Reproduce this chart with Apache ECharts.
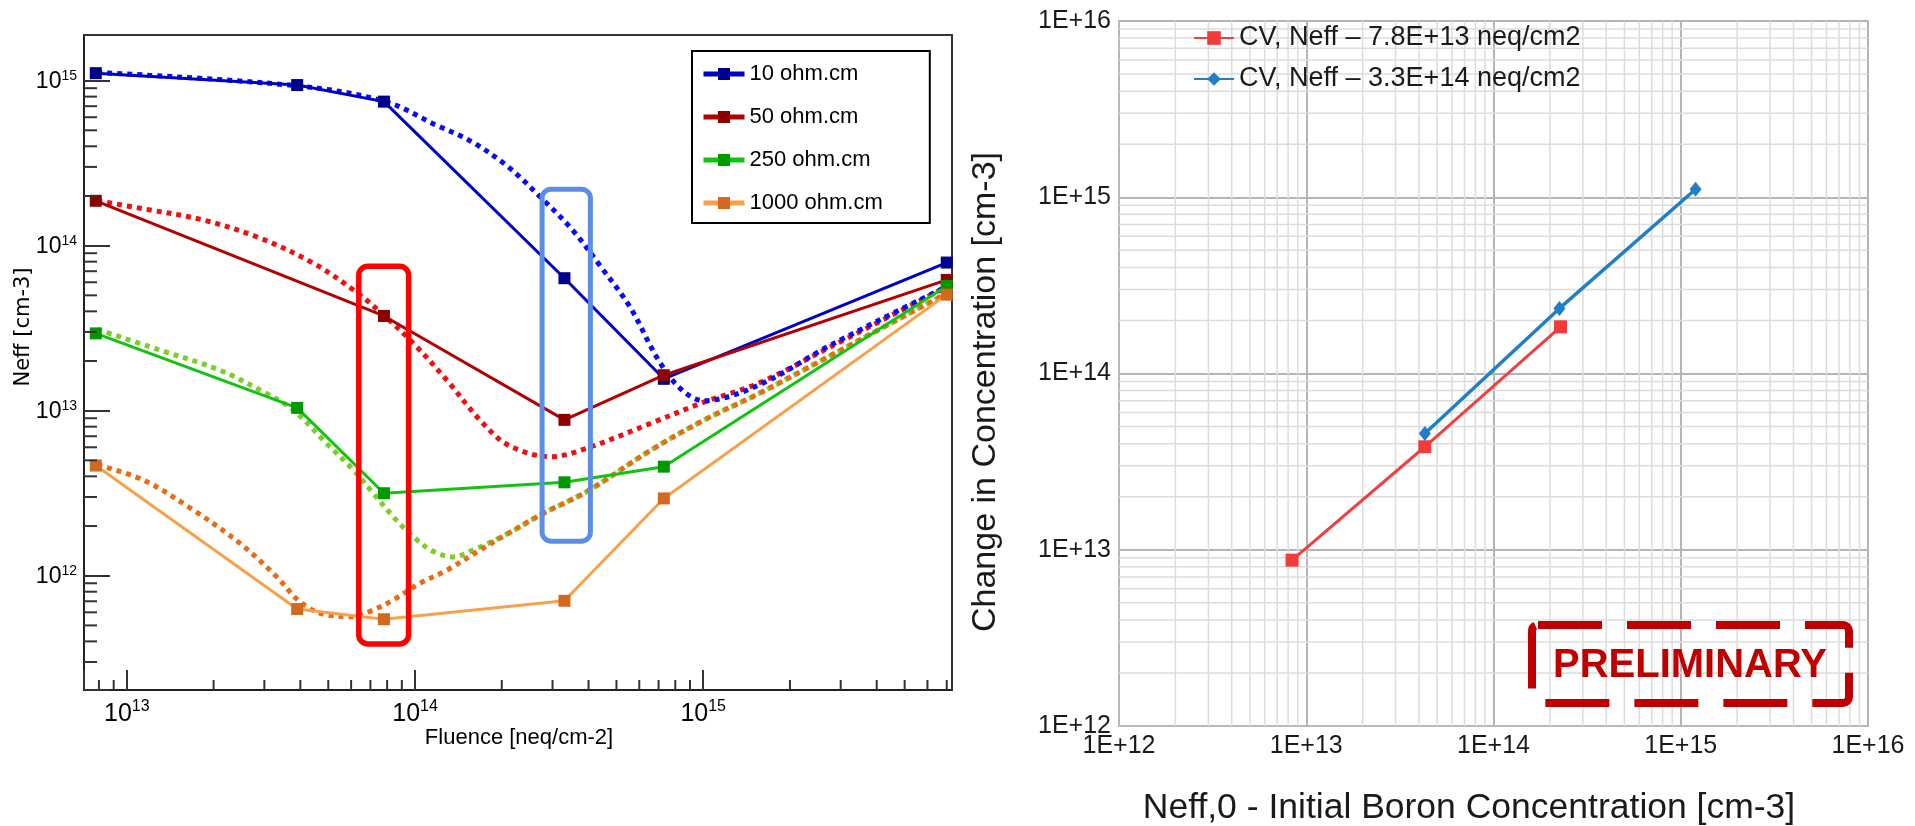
<!DOCTYPE html>
<html>
<head>
<meta charset="utf-8">
<title>Neff vs fluence / boron concentration</title>
<script src="https://cdn.jsdelivr.net/npm/echarts@6/dist/echarts.min.js"></script>
<style>
html, body { margin: 0; padding: 0; background: #fff; }
#chart { width: 1915px; height: 826px; }
</style>
</head>
<body>
<div id="chart"></div>
<script>
// ---- left panel: measured Neff vs fluence ----
const fluence = [7.8e12, 3.9e13, 7.8e13, 3.3e14, 7.3e14, 7.0e15]
const neff10 = [1.11e15, 9.4e14, 7.46e14, 6.35e13, 1.56e13, 7.9e13]
const neff50 = [1.87e14, null, 3.75e13, 8.8e12, 1.64e13, 6.2e13]
const neff250 = [2.94e13, 1.04e13, 3.16e12, 3.68e12, 4.58e12, 5.7e13]
const neff1000 = [4.65e12, 6.28e11, 5.45e11, 7.05e11, 2.94e12, 5.05e13]

// model curves (dotted), [fluence, Neff]
const model10 = [[7.9e12, 1.12e15], [3.9e13, 9.3e14], [7.9e13, 7.46e14], [1.18e14, 5.39e14],
  [1.57e14, 4.27e14], [2.1e14, 3.01e14], [2.79e14, 1.89e14], [3.51e14, 1.25e14], [4.41e14, 7.46e13],
  [5.56e14, 4.27e13], [6.99e14, 2.03e13], [8.3e14, 1.37e13], [1.0e15, 1.15e13],
  [1.56e15, 1.43e13], [2.77e15, 2.5e13], [7.0e15, 5.65e13]]
const model50 = [[7.9e12, 1.87e14], [1.17e13, 1.66e14], [1.84e13, 1.43e14], [2.9e13, 1.11e14], [4.44e13, 7.82e13],
  [6.1e13, 5.4e13], [7.55e13, 3.98e13], [9.86e13, 2.56e13], [1.29e14, 1.53e13], [1.68e14, 8.78e12],
  [2.1e14, 6.2e12], [2.96e14, 5.26e12], [3.94e14, 5.92e12], [6.6e14, 8.4e12], [1.01e15, 1.13e13],
  [1.56e15, 1.47e13], [2.77e15, 2.44e13], [7.0e15, 5.65e13]]
const model250 = [[7.9e12, 3.11e13], [1.3e13, 2.33e13], [2.1e13, 1.76e13], [3.05e13, 1.27e13], [3.78e13, 1.01e13],
  [4.93e13, 6.34e12], [6.1e13, 4.38e12], [7.16e13, 3.16e12], [8.4e13, 2.28e12], [9.86e13, 1.72e12],
  [1.16e14, 1.4e12], [1.36e14, 1.3e12], [1.59e14, 1.43e12], [2.1e14, 1.8e12], [2.79e14, 2.39e12],
  [3.94e14, 3.23e12], [6.6e14, 5.78e12], [1.01e15, 8.8e12], [1.56e15, 1.27e13], [2.4e15, 1.89e13],
  [7.0e15, 5.15e13]]
const model1000 = [[7.9e12, 4.69e12], [1.14e13, 3.8e12], [1.7e13, 2.5e12], [2.47e13, 1.57e12], [3.31e13, 9.86e11],
  [3.99e13, 6.95e11], [4.93e13, 5.78e11], [6.1e13, 5.65e11], [7.16e13, 6.2e11], [8.4e13, 7.13e11],
  [1.04e14, 9.0e11], [1.29e14, 1.08e12], [1.68e14, 1.43e12], [2.1e14, 1.8e12], [2.79e14, 2.39e12],
  [3.94e14, 3.23e12], [6.6e14, 5.78e12], [1.01e15, 8.8e12], [1.56e15, 1.27e13], [2.4e15, 1.89e13],
  [7.0e15, 5.15e13]]

// highlight boxes [x0, y0, x1, y1] in data units
const redBox = [[6.38e13, 3.86e11, 9.5e13, 7.5e13]]
const blueBox = [[2.76e14, 1.62e12, 4.06e14, 2.2e14]]

// ---- right panel: change in concentration vs initial boron ----
const boronA = [8.4e12, 4.3e13, 2.28e14]
const changeA = [8.73e12, 3.84e13, 1.84e14]
const boronB = [4.3e13, 2.25e14, 1.2e15]
const changeB = [4.57e13, 2.34e14, 1.11e15]

const X0_MIN = 7.1e12, X0_MAX = 7.3e15
const Y0_MIN = 2.03e11, Y0_MAX = 1.89e15
const R_MIN = 1e12, R_MAX = 1e16

function decadeTicks (lo, hi) {
  const out = []
  for (let e = Math.floor(Math.log10(lo)); e <= Math.ceil(Math.log10(hi)); e++) {
    for (let m = 2; m <= 9; m++) {
      const v = m * Math.pow(10, e)
      if (v > lo * 1.0001 && v < hi * 0.9999) out.push(v)
    }
  }
  return out
}
function isDecade (v) {
  const e = Math.log10(v)
  return Math.abs(e - Math.round(e)) < 1e-6
}
function pairs (xs, ys) {
  return xs.map((x, i) => [x, ys[i]]).filter(p => p[1] != null)
}

const FONT = '"Liberation Sans", Arial, sans-serif'
const NARROW = '"Liberation Sans Narrow", "Arial Narrow", "Liberation Sans", sans-serif'

function solid (name, ys, lineColor, markColor) {
  return {
    name: name,
    type: 'line',
    xAxisIndex: 0,
    yAxisIndex: 0,
    data: pairs(fluence, ys),
    symbol: 'rect',
    symbolSize: 12,
    z: 4,
    itemStyle: { color: markColor },
    lineStyle: { color: lineColor, width: 3 }
  }
}
function dotted (name, pts, color) {
  return {
    name: name,
    type: 'line',
    xAxisIndex: 0,
    yAxisIndex: 0,
    data: pts,
    showSymbol: false,
    smooth: 0.35,
    z: 3,
    lineStyle: { color: color, width: 5, type: [5, 5], cap: 'butt' }
  }
}
function box (data, color, width) {
  return {
    type: 'custom',
    xAxisIndex: 0,
    yAxisIndex: 0,
    z: 6,
    silent: true,
    encode: { x: [0, 2], y: [1, 3] },
    data: data,
    renderItem: (params, api) => {
      const p0 = api.coord([api.value(0), api.value(1)])
      const p1 = api.coord([api.value(2), api.value(3)])
      return {
        type: 'rect',
        shape: { x: p0[0], y: p1[1], width: p1[0] - p0[0], height: p0[1] - p1[1], r: 9 },
        style: { fill: 'none', stroke: color, lineWidth: width }
      }
    }
  }
}
// short ticks / grid lines drawn through the axes
function tickMarks (axisIdx, data, vertical, len, style, z) {
  return {
    type: 'custom',
    xAxisIndex: axisIdx,
    yAxisIndex: axisIdx,
    z: z,
    silent: true,
    encode: { x: 0, y: 1 },
    data: data,
    renderItem: (params, api) => {
      const p = api.coord([api.value(0), api.value(1)])
      let shape
      if (len === 'full') {
        const q = vertical ? api.coord([api.value(0), R_MAX]) : api.coord([R_MAX, api.value(1)])
        shape = { x1: p[0], y1: p[1], x2: q[0], y2: q[1] }
      } else if (vertical) {
        shape = { x1: p[0], y1: p[1], x2: p[0], y2: p[1] - len }
      } else {
        shape = { x1: p[0], y1: p[1], x2: p[0] + len, y2: p[1] }
      }
      return { type: 'line', shape: shape, style: style }
    }
  }
}

const chart = echarts.init(document.getElementById('chart'), null, { renderer: 'canvas' })

const option = {
  animation: false,
  backgroundColor: '#fff',
  textStyle: { fontFamily: FONT },
  grid: [
    { left: 84, top: 35, width: 868, height: 655, show: true, borderColor: '#333', borderWidth: 2, backgroundColor: 'transparent' },
    { left: 1119, top: 21, width: 749, height: 705, show: true, borderColor: '#c4c4c4', borderWidth: 2, backgroundColor: 'transparent' }
  ],
  xAxis: [
    {
      type: 'log', gridIndex: 0, min: X0_MIN, max: X0_MAX,
      axisLine: { lineStyle: { color: '#222', width: 2 } },
      axisTick: { inside: true, length: 20, lineStyle: { color: '#333', width: 2 } },
      splitLine: { show: false },
      axisLabel: {
        margin: 9,
        formatter: v => isDecade(v) ? '{b|10}{s|' + Math.round(Math.log10(v)) + '}' : '',
        rich: {
          b: { fontSize: 25, lineHeight: 25, padding: [6, 0, 0, 0], fontFamily: NARROW, color: '#000' },
          s: { fontSize: 16, lineHeight: 16, verticalAlign: 'top', fontFamily: NARROW, color: '#000' }
        }
      }
    },
    {
      type: 'log', gridIndex: 1, min: R_MIN, max: R_MAX,
      axisLine: { lineStyle: { color: '#b8b8b8', width: 2 } },
      axisTick: { show: false },
      splitLine: { show: true, lineStyle: { color: '#b4b4b4', width: 2 } },
      axisLabel: {
        margin: 8, fontSize: 25, color: '#1a1a1a',
        formatter: v => isDecade(v) ? '1E+' + Math.round(Math.log10(v)) : ''
      }
    }
  ],
  yAxis: [
    {
      type: 'log', gridIndex: 0, min: Y0_MIN, max: Y0_MAX,
      axisLine: { lineStyle: { color: '#222', width: 2 } },
      axisTick: { inside: true, length: 26, lineStyle: { color: '#333', width: 2 } },
      splitLine: { show: false },
      axisLabel: {
        margin: 7,
        formatter: v => isDecade(v) ? '{b|10}{s|' + Math.round(Math.log10(v)) + '}' : '',
        rich: {
          b: { fontSize: 23, lineHeight: 23, padding: [2, 0, 0, 0], color: '#000' },
          s: { fontSize: 14, lineHeight: 14, verticalAlign: 'top', color: '#000' }
        }
      }
    },
    {
      type: 'log', gridIndex: 1, min: R_MIN, max: R_MAX,
      axisLine: { lineStyle: { color: '#b8b8b8', width: 2 } },
      axisTick: { show: false },
      splitLine: { show: true, lineStyle: { color: '#b4b4b4', width: 2 } },
      axisLabel: {
        margin: 8, fontSize: 25, color: '#1a1a1a',
        formatter: v => isDecade(v) ? '1E+' + Math.round(Math.log10(v)) : ''
      }
    }
  ],
  legend: [
    {
      data: ['10 ohm.cm', '50 ohm.cm', '250 ohm.cm', '1000 ohm.cm'],
      orient: 'vertical', left: 692, top: 51,
      backgroundColor: '#fff', borderColor: '#000', borderWidth: 2, borderRadius: 0,
      padding: [10, 47, 7, 9],
      itemWidth: 41, itemHeight: 15, itemGap: 17, itemTextGap: 9,
      selectedMode: false,
      lineStyle: { width: 5 },
      textStyle: { fontSize: 22, lineHeight: 26, color: '#000', fontFamily: FONT }
    },
    {
      data: ['CV, Neff – 7.8E+13 neq/cm2', 'CV, Neff – 3.3E+14 neq/cm2'],
      orient: 'vertical', left: 1188, top: 19,
      itemWidth: 40, itemHeight: 17, itemGap: 13, itemTextGap: 6,
      selectedMode: false,
      textStyle: { fontSize: 27, lineHeight: 28, color: '#1a1a1a', fontFamily: FONT }
    }
  ],
  graphic: [
    { type: 'text', x: 24, y: 327, rotation: Math.PI / 2,
      style: { text: 'Neff [cm-3]', fontSize: 21, fontFamily: '"DejaVu Sans", sans-serif', fill: '#000', align: 'center', verticalAlign: 'middle' } },
    { type: 'text', x: 519, y: 738,
      style: { text: 'Fluence [neq/cm-2]', fontSize: 22, fontFamily: FONT, fill: '#000', align: 'center', verticalAlign: 'middle' } },
    { type: 'text', x: 986, y: 392, rotation: Math.PI / 2,
      style: { text: 'Change in Concentration [cm-3]', fontSize: 34, fontFamily: FONT, fill: '#1a1a1a', align: 'center', verticalAlign: 'middle' } },
    { type: 'text', x: 1469, y: 808,
      style: { text: 'Neff,0 - Initial Boron Concentration [cm-3]', fontSize: 35.5, fontFamily: FONT, fill: '#1a1a1a', align: 'center', verticalAlign: 'middle' } },
    { type: 'rect', z: 10, shape: { x: 1532, y: 625, width: 317, height: 78, r: 6 },
      style: { fill: 'none', stroke: '#c00000', lineWidth: 8, lineDash: [64, 25] } },
    { type: 'text', z: 10, x: 1690, y: 666,
      style: { text: 'PRELIMINARY', fontSize: 40, fontWeight: 'bold', fontFamily: FONT, fill: '#c00000', align: 'center', verticalAlign: 'middle' } }
  ],
  series: [
    tickMarks(0, decadeTicks(X0_MIN, X0_MAX).map(v => [v, Y0_MIN]), true, 10, { stroke: '#333', lineWidth: 2 }, 5),
    tickMarks(0, decadeTicks(Y0_MIN, Y0_MAX).map(v => [X0_MIN, v]), false, 13, { stroke: '#333', lineWidth: 2 }, 5),
    dotted('model 250', model250, '#7ccc2a'),
    dotted('model 1000', model1000, '#ec6a12'),
    dotted('model 50', model50, '#f01010'),
    dotted('model 10', model10, '#0a0aff'),
    solid('10 ohm.cm', neff10, '#0000c8', '#00008c'),
    solid('50 ohm.cm', neff50, '#b30000', '#8b0000'),
    solid('250 ohm.cm', neff250, '#12c412', '#009a00'),
    solid('1000 ohm.cm', neff1000, '#f6a24a', '#d2691e'),
    box(redBox, '#ff0000', 5.5),
    box(blueBox, '#5a8ee8', 5),

    tickMarks(1, decadeTicks(R_MIN, R_MAX).map(v => [v, R_MIN]), true, 'full', { stroke: '#dcdcdc', lineWidth: 1.5 }, 1),
    tickMarks(1, decadeTicks(R_MIN, R_MAX).map(v => [R_MIN, v]), false, 'full', { stroke: '#dcdcdc', lineWidth: 1.5 }, 1),
    {
      name: 'CV, Neff – 7.8E+13 neq/cm2',
      type: 'line', xAxisIndex: 1, yAxisIndex: 1,
      data: pairs(boronA, changeA),
      symbol: 'rect', symbolSize: 13, z: 4,
      itemStyle: { color: '#f23c3c' },
      lineStyle: { color: '#ee4040', width: 3 }
    },
    {
      name: 'CV, Neff – 3.3E+14 neq/cm2',
      type: 'line', xAxisIndex: 1, yAxisIndex: 1,
      data: pairs(boronB, changeB),
      symbol: 'diamond', symbolSize: [12, 15], z: 4,
      itemStyle: { color: '#1f80c8' },
      lineStyle: { color: '#1f80c8', width: 3.5 }
    }
  ]
}

chart.setOption(option)
</script>
</body>
</html>
